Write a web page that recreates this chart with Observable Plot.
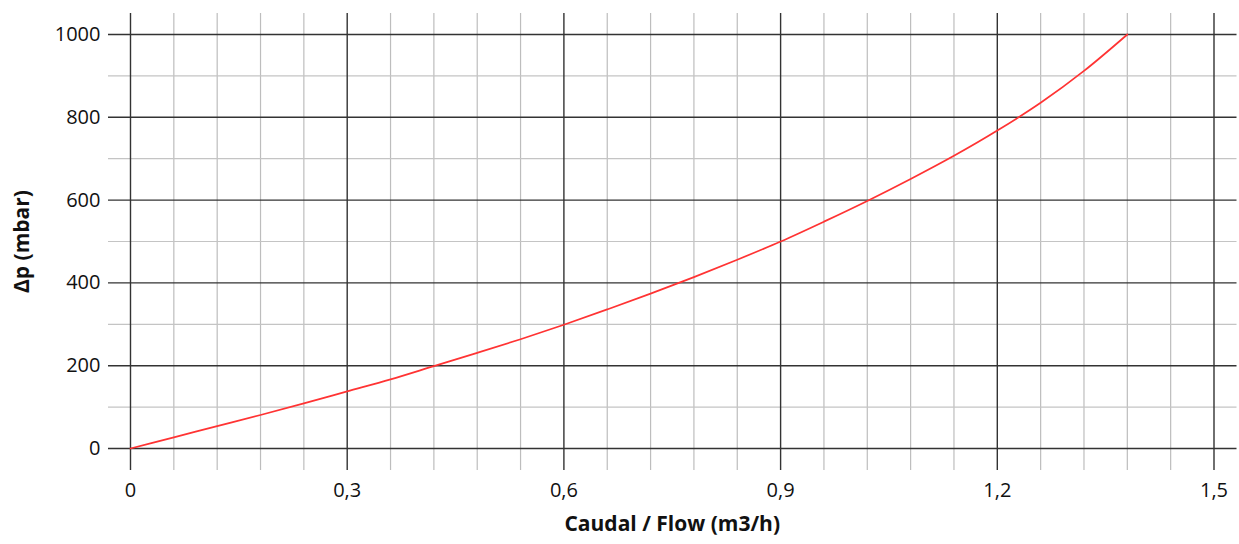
<!DOCTYPE html>
<html>
<head>
<meta charset="utf-8">
<script src="https://cdn.jsdelivr.net/npm/d3@7"></script>
<script src="https://cdn.jsdelivr.net/npm/@observablehq/plot@0.6"></script>
<style>
  html, body { margin: 0; padding: 0; background: #fff; }
  svg { display: block; }
</style>
</head>
<body>
<div id="chart"></div>
<script>
// Data
const flow = [0, 0.06, 0.12, 0.18, 0.24, 0.3, 0.36, 0.42, 0.48, 0.54, 0.6, 0.66, 0.72, 0.78, 0.84, 0.9, 0.96, 1.02, 1.08, 1.14, 1.2, 1.26, 1.32, 1.38];
const dp   = [0, 27, 54, 81, 109, 138, 167, 199, 231, 264, 299, 336, 374, 414, 456, 500, 548, 598, 651, 707, 768, 835, 912, 1000];

const xMajor = [0, 0.3, 0.6, 0.9, 1.2, 1.5];
const xMinor = [0.06, 0.12, 0.18, 0.24, 0.36, 0.42, 0.48, 0.54, 0.66, 0.72, 0.78, 0.84, 0.96, 1.02, 1.08, 1.14, 1.26, 1.32, 1.38, 1.44];
const yMajor = [0, 200, 400, 600, 800, 1000];
const yMinor = [100, 300, 500, 700, 900];

const xTitle = "Caudal / Flow (m3/h)";
const yTitle = "Δp (mbar)";

const data = flow.map((f, i) => ({flow: f, dp: dp[i]}));

const chart = Plot.plot({
  width: 1239,
  height: 544,
  marginLeft: 130,
  marginRight: 25.5,
  marginTop: 34,
  marginBottom: 96,
  style: {fontFamily: "'Open Sans', sans-serif", fontSize: "20px", color: "#111", background: "#fff"},
  x: {domain: [0, 1.5]},
  y: {domain: [0, 1000]},
  marks: [
    Plot.ruleX(xMinor, {stroke: "#bdbdbd", strokeWidth: 1.2, insetTop: -21, insetBottom: -22}),
    Plot.ruleY(yMinor, {stroke: "#c4c4c4", strokeWidth: 1.2, insetLeft: -22, insetRight: -23}),
    Plot.ruleX(xMajor, {stroke: "#333", strokeWidth: 1.4, insetTop: -21, insetBottom: -22}),
    Plot.ruleY(yMajor, {stroke: "#333", strokeWidth: 1.4, insetLeft: -22, insetRight: -23}),
    Plot.axisX(xMajor, {tickSize: 0, tickPadding: 34, tickFormat: d => String(d).replace(".", ","), label: null, fontSize: 20}),
    Plot.axisY(yMajor, {tickSize: 0, tickPadding: 30, tickFormat: d => String(d), label: null, fontSize: 20}),
    Plot.line(data, {x: "flow", y: "dp", stroke: "#ff3333", strokeWidth: 1.7, curve: "monotone-x"}),
    Plot.text([xTitle], {frameAnchor: "bottom", dy: 82, fontWeight: "bold", fontSize: 21, fill: "#111"}),
    Plot.text([yTitle], {frameAnchor: "left", textAnchor: "middle", dx: -108, rotate: -90, fontWeight: "bold", fontSize: 21, fill: "#111"})
  ]
});
document.getElementById("chart").appendChild(chart);
</script>
</body>
</html>
